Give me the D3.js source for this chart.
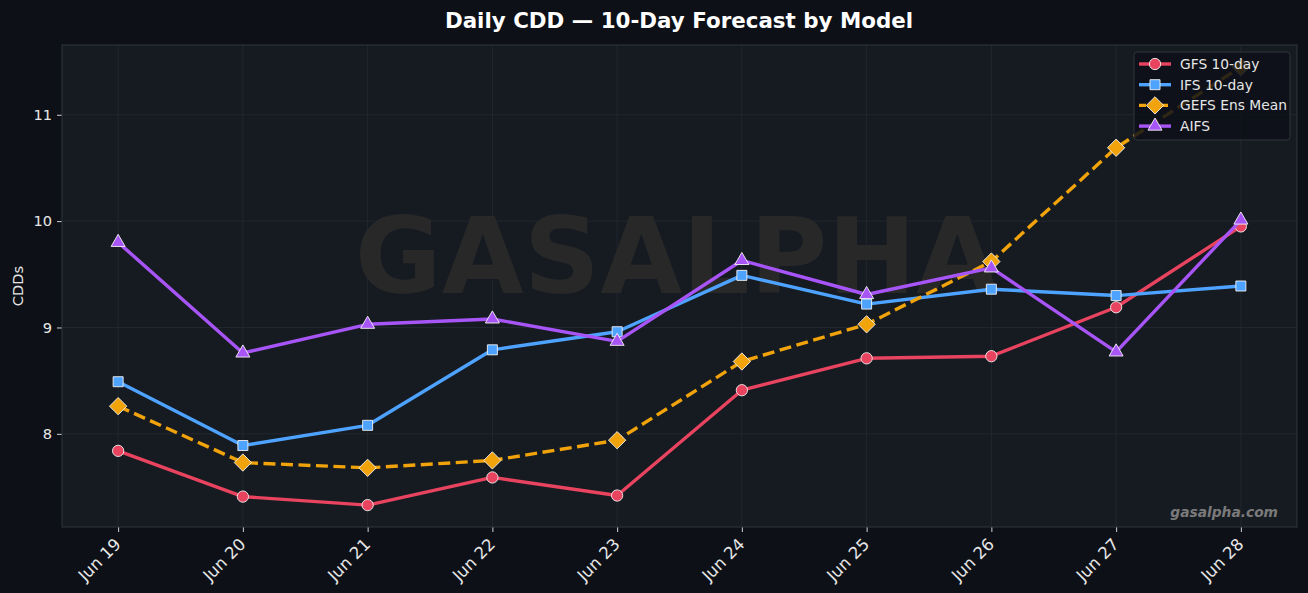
<!DOCTYPE html>
<html>
<head>
<meta charset="utf-8">
<script src="https://cdn.jsdelivr.net/npm/d3@7"></script>
<style>
  body { margin: 0; background: #0d1017; }
  svg { display: block; font-family: "DejaVu Sans", sans-serif; }
</style>
</head>
<body>
<svg id="chart"></svg>
<script>
"use strict";

// CDD forecast by model
let days = ["Jun 19", "Jun 20", "Jun 21", "Jun 22", "Jun 23", "Jun 24", "Jun 25", "Jun 26", "Jun 27", "Jun 28"];
let gfs  = [7.84, 7.41, 7.33, 7.59, 7.42, 8.41, 8.71, 8.73, 9.19, 9.95];
let ifs  = [8.49, 7.89, 8.08, 8.79, 8.96, 9.49, 9.22, 9.36, 9.30, 9.39];
let gefs = [8.26, 7.73, 7.68, 7.75, 7.94, 8.68, 9.03, 9.62, 10.69, 11.45];
let aifs = [9.80, 8.76, 9.03, 9.08, 8.87, 9.63, 9.31, 9.56, 8.77, 10.01];
let yTicks = [8, 9, 10, 11];

// diamond = square turned 45deg
let diamond = {
  draw(ctx, size) {
    let r = Math.sqrt(size / 2);
    ctx.moveTo(0, -r); ctx.lineTo(r, 0); ctx.lineTo(0, r); ctx.lineTo(-r, 0); ctx.closePath();
  }
};

let series = [
  { name: "GFS 10-day", values: gfs, color: "#e8435f", symbol: d3.symbolCircle, size: 100, dash: null },
  { name: "IFS 10-day", values: ifs, color: "#4da3ff", symbol: d3.symbolSquare, size: 100, dash: null },
  { name: "GEFS Ens Mean", values: gefs, color: "#f0a30a", symbol: diamond, size: 150, dash: "12,5.5" },
  { name: "AIFS", values: aifs, color: "#a855f7", symbol: d3.symbolTriangle, size: 85, dash: null },
];

let W = 1308, H = 593;
let m = { left: 62, right: 1297, top: 45, bottom: 527 };

let svg = d3.select("#chart").attr("width", W).attr("height", H);
svg.append("rect").attr("width", W).attr("height", H).attr("fill", "#0d1017");

let x = d3.scalePoint().domain(days).range([m.left, m.right]).padding(0.45);

let all = series.flatMap((s) => s.values);
let lo = d3.min(all), hi = d3.max(all), pad = (hi - lo) * 0.05;
let y = d3.scaleLinear().domain([lo - pad, hi + pad]).range([m.bottom, m.top]);

// plot background
svg.append("rect")
  .attr("x", m.left).attr("y", m.top)
  .attr("width", m.right - m.left).attr("height", m.bottom - m.top)
  .attr("fill", "#161a21");

// grid
let grid = svg.append("g");
grid.selectAll(".gx").data(days).enter().append("line")
  .attr("x1", (d) => x(d)).attr("x2", (d) => x(d))
  .attr("y1", m.top).attr("y2", m.bottom)
  .attr("stroke", "#262b33").attr("stroke-width", 0.8);
grid.selectAll(".gy").data(yTicks).enter().append("line")
  .attr("x1", m.left).attr("x2", m.right)
  .attr("y1", (d) => y(d)).attr("y2", (d) => y(d))
  .attr("stroke", "#262b33").attr("stroke-width", 0.8);

// big watermark
svg.append("text")
  .attr("x", (m.left + m.right) / 2 - 3).attr("y", 293)
  .attr("text-anchor", "middle")
  .attr("font-size", 106).attr("font-weight", "bold")
  .attr("fill", "#282828")
  .text("GASALPHA");

// axes
let xAxis = svg.append("g")
  .attr("transform", `translate(0,${m.bottom})`)
  .call(d3.axisBottom(x).tickSize(5).tickPadding(4));
xAxis.selectAll("text")
  .attr("font-size", 16.5).attr("fill", "#e6e6e6")
  .attr("text-anchor", "end")
  .attr("transform", "translate(-5,10) rotate(-45)")
  .attr("dy", "0.35em").attr("y", 6);

let yAxis = svg.append("g")
  .attr("transform", `translate(${m.left},0)`)
  .call(d3.axisLeft(y).tickValues(yTicks).tickFormat(d3.format("d")).tickSize(5).tickPadding(5));
yAxis.selectAll("text").attr("font-size", 14.6).attr("fill", "#e6e6e6");

[xAxis, yAxis].forEach((a) => {
  a.select(".domain").remove();
  a.selectAll("line").attr("stroke", "#d0d0d0").attr("stroke-width", 1);
  a.attr("font-family", "DejaVu Sans, sans-serif");
});

// frame
svg.append("rect")
  .attr("x", m.left).attr("y", m.top)
  .attr("width", m.right - m.left).attr("height", m.bottom - m.top)
  .attr("fill", "none").attr("stroke", "#30353d").attr("stroke-width", 1);

// lines and markers
let line = d3.line().x((d, i) => x(days[i])).y((d) => y(d));

series.forEach((s) => {
  svg.append("path")
    .datum(s.values)
    .attr("d", line)
    .attr("fill", "none")
    .attr("stroke", s.color)
    .attr("stroke-width", 3.4)
    .attr("stroke-linejoin", "round")
    .attr("stroke-dasharray", s.dash);
  svg.selectAll(null)
    .data(s.values)
    .enter()
    .append("path")
    .attr("d", d3.symbol().type(s.symbol).size(s.size))
    .attr("transform", (d, i) => `translate(${x(days[i])},${y(d)})`)
    .attr("fill", s.color)
    .attr("stroke", "#f2f2f2")
    .attr("stroke-width", 0.9);
});

// legend
let lg = svg.append("g").attr("transform", "translate(1134,52)");
lg.append("rect")
  .attr("width", 156).attr("height", 88).attr("rx", 3)
  .attr("fill", "#0d1017").attr("fill-opacity", 0.85)
  .attr("stroke", "#30353d");
series.forEach((s, i) => {
  let row = lg.append("g").attr("transform", `translate(0,${12 + i * 20.7})`);
  row.append("line")
    .attr("x1", 5).attr("x2", 37)
    .attr("stroke", s.color).attr("stroke-width", 3.4)
    .attr("stroke-dasharray", s.dash ? "7,4" : null);
  row.append("path")
    .attr("d", d3.symbol().type(s.symbol).size(s.size))
    .attr("transform", "translate(21,0)")
    .attr("fill", s.color).attr("stroke", "#f2f2f2").attr("stroke-width", 0.9);
  row.append("text")
    .attr("x", 46).attr("y", 0).attr("dy", "0.35em")
    .attr("font-size", 13.8).attr("fill", "#e6e6e6")
    .text(s.name);
});

// title, y label, site mark
svg.append("text")
  .attr("x", 679).attr("y", 28)
  .attr("text-anchor", "middle")
  .attr("font-size", 21.4).attr("font-weight", "bold").attr("fill", "#ffffff")
  .text("Daily CDD \u2014 10-Day Forecast by Model");

svg.append("text")
  .attr("transform", `translate(23,${(m.top + m.bottom) / 2}) rotate(-90)`)
  .attr("text-anchor", "middle")
  .attr("font-size", 14.6).attr("fill", "#e6e6e6")
  .text("CDDs");

svg.append("text")
  .attr("x", 1278).attr("y", 517)
  .attr("text-anchor", "end")
  .attr("font-size", 13.8).attr("font-weight", "bold").attr("font-style", "italic")
  .attr("fill", "#7a7a7a")
  .text("gasalpha.com");
</script>
</body>
</html>
